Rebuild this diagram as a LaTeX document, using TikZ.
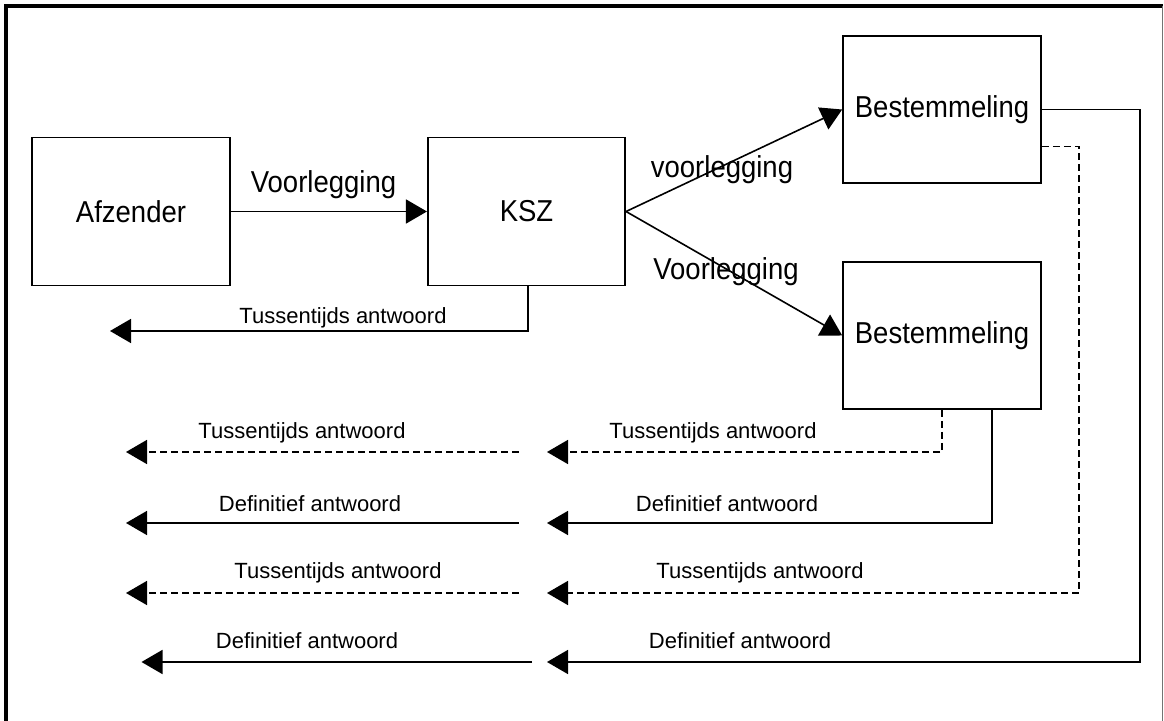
\documentclass[tikz,border=0pt]{standalone}
\usepackage{fontspec}
\setmainfont{Liberation Sans}
\usetikzlibrary{arrows.meta,calc}
\newcommand\talltext[1]{\scalebox{1}[1.1]{#1}}
\begin{document}
\begin{tikzpicture}[x=0.5pt,y=-0.5pt,
  box/.style={draw,line width=0.8pt,minimum width=99pt,minimum height=74pt,inner sep=0pt,font=\fontsize{13.75}{16}\selectfont},
  big/.style={inner sep=0pt,anchor=base,font=\fontsize{13.75}{16}\selectfont},
  small/.style={inner sep=0pt,anchor=base,font=\fontsize{11}{13}\selectfont},
  conn/.style={line width=0.8pt,-{Triangle[length=10.5pt,width=12pt]}},
  dconn/.style={conn,dash pattern=on 3.5pt off 2pt},
  framethick/.style={line width=2pt,black},
  framethin/.style={line width=0.6pt,black!55},
]
\useasboundingbox (0,0) rectangle (1164,721);
\fill[white] (0,0) rectangle (1164,721);
% frame
\coordinate (f1) at (6,721);
\coordinate (f2) at (6,6);
\coordinate (f3) at (1163,6);
\coordinate (f4) at (1162.5,6);
\coordinate (f5) at (1162.5,721);
\draw[framethick] (f1) -- (f2) -- (f3);
\draw[framethin] (f4) -- (f5);

% boxes
\node[box] (afz) at (131,211.5) {\talltext{Afzender}};
\node[box,minimum width=98.75pt] (ksz) at (526.5,211.5) {\talltext{KSZ}};
\node[box,minimum height=73.5pt] (tb) at (942,109.5) {\talltext{Bestemmeling}};
\node[box,minimum height=73.5pt] (bb) at (942,335.5) {\talltext{Bestemmeling}};

% requests
\draw[conn] (afz.east) -- (ksz.west);
\node[big] (lv1) at (323.5,193) {\talltext{Voorlegging}};
\draw[conn] (ksz.east) -- (tb.west);
\node[big] (lv2) at (722,178) {\talltext{voorlegging}};
\draw[conn] (ksz.east) -- (bb.west);
\node[big] (lv3) at (726,280) {\talltext{Voorlegging}};

% interim answer from KSZ
\coordinate (k0) at (110,331);
\draw[conn] ($(ksz.south)+(1.5,0)$) |- (k0);
\node[small] (lk0) at (343,324) {Tussentijds antwoord};

% right column
\coordinate (r1) at (547,452);
\coordinate (r2) at (547,523);
\coordinate (r3) at (547,593);
\coordinate (r4) at (547,662);
\coordinate (c3) at (1079,0);
\coordinate (c4) at (1140,0);
\draw[dconn] (bb.south) |- (r1);
\draw[conn] ($(bb.south)!0.5!(bb.south east)$) |- (r2);
\draw[dconn] ($(tb.east)!0.5!(tb.south east)$) -| (c3 |- r3) -- (r3);
\draw[conn] (tb.east) -| (c4 |- r4) -- (r4);
\node[small] (lr1) at (713,438.5) {Tussentijds antwoord};
\node[small] (lr2) at (727,511.5) {Definitief antwoord};
\node[small] (lr3) at (760,579) {Tussentijds antwoord};
\node[small] (lr4) at (740,649) {Definitief antwoord};

% left column
\coordinate (s1) at (518.5,452);
\coordinate (e1) at (126,452);
\coordinate (s2) at (518.5,523);
\coordinate (e2) at (126,523);
\coordinate (s3) at (518.5,593);
\coordinate (e3) at (126,593);
\coordinate (s4) at (532,662);
\coordinate (e4) at (141.5,662);
\draw[dconn] (s1) -- (e1);
\draw[conn] (s2) -- (e2);
\draw[dconn] (s3) -- (e3);
\draw[conn] (s4) -- (e4);
\node[small] (ll1) at (302,438.5) {Tussentijds antwoord};
\node[small] (ll2) at (310,511.5) {Definitief antwoord};
\node[small] (ll3) at (338,579) {Tussentijds antwoord};
\node[small] (ll4) at (307,649) {Definitief antwoord};
\end{tikzpicture}
\end{document}
